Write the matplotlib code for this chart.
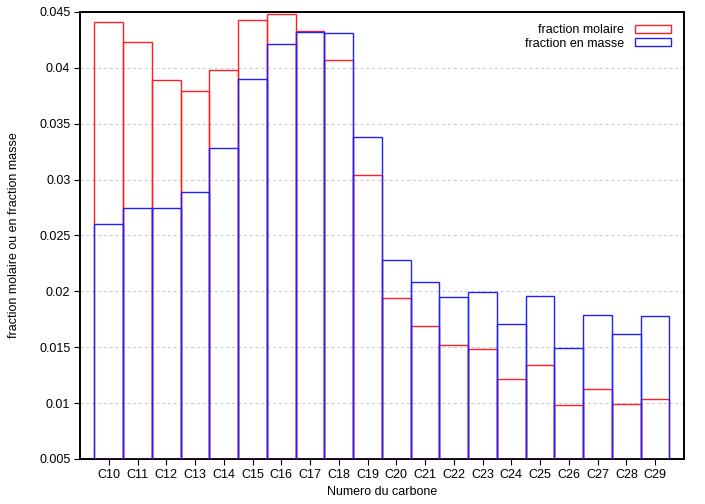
import matplotlib
matplotlib.use('Agg')
import matplotlib.pyplot as plt
from matplotlib.patches import Patch
from matplotlib.ticker import FuncFormatter

labels = ['C10', 'C11', 'C12', 'C13', 'C14', 'C15', 'C16', 'C17', 'C18', 'C19',
          'C20', 'C21', 'C22', 'C23', 'C24', 'C25', 'C26', 'C27', 'C28', 'C29']
fraction_molaire = [0.0441, 0.0423, 0.0389, 0.0379, 0.0398, 0.0443, 0.0448, 0.0433, 0.0407, 0.0304,
                    0.0194, 0.0169, 0.0152, 0.0148, 0.0122, 0.0134, 0.0098, 0.0113, 0.0099, 0.0104]
fraction_masse = [0.0260, 0.0275, 0.0275, 0.0289, 0.0328, 0.0390, 0.0421, 0.0432, 0.0431, 0.0338,
                  0.0228, 0.0208, 0.0195, 0.0199, 0.0171, 0.0196, 0.0149, 0.0179, 0.0162, 0.0178]
yticks = [0.005, 0.01, 0.015, 0.02, 0.025, 0.03, 0.035, 0.04, 0.045]

plt.rcParams['font.family'] = ['Liberation Sans', 'DejaVu Sans']
plt.rcParams['font.size'] = 9

fig = plt.figure(figsize=(7.05, 5.04), dpi=100)
ax = fig.add_axes([0.1135, 0.0893, 0.8565, 0.887])

x = list(range(len(labels)))
bottom = 0.005
h1 = [v - bottom for v in fraction_molaire]
h2 = [v - bottom for v in fraction_masse]
ax.bar(x, h1, width=1.0, bottom=bottom, facecolor='none', edgecolor='#ff2020', linewidth=1.0, zorder=3)
ax.bar(x, h2, width=1.0, bottom=bottom, facecolor='none', edgecolor='#2020ff', linewidth=1.0, zorder=4)

ax.set_xlim(-1, 20)
ax.set_ylim(0.005, 0.045)
ax.set_xticks(x)
ax.set_xticklabels(labels)
ax.set_yticks(yticks)
ax.yaxis.set_major_formatter(FuncFormatter(lambda v, p: ('%.3f' % v).rstrip('0')))
ax.tick_params(direction='out', length=4, width=0.8, colors='black', pad=3)
ax.yaxis.grid(True, linestyle=(0, (3, 3)), color='#c8c8c8', linewidth=0.7, zorder=0)
for s in ax.spines.values():
    s.set_linewidth(1.4)

ax.set_xlabel('Numero du carbone', labelpad=4)
ax.set_ylabel('fraction molaire ou en fraction masse', labelpad=14)

handles = [Patch(facecolor='none', edgecolor='#ff2020', linewidth=1.0),
           Patch(facecolor='none', edgecolor='#2020ff', linewidth=1.0)]
ax.legend(handles, ['fraction molaire', 'fraction en masse'], loc='upper right',
          frameon=False, markerfirst=False, handlelength=2.9, handleheight=0.6,
          labelspacing=0.1, borderaxespad=0.6, handletextpad=0.9)

fig.savefig('out.png', dpi=100)
